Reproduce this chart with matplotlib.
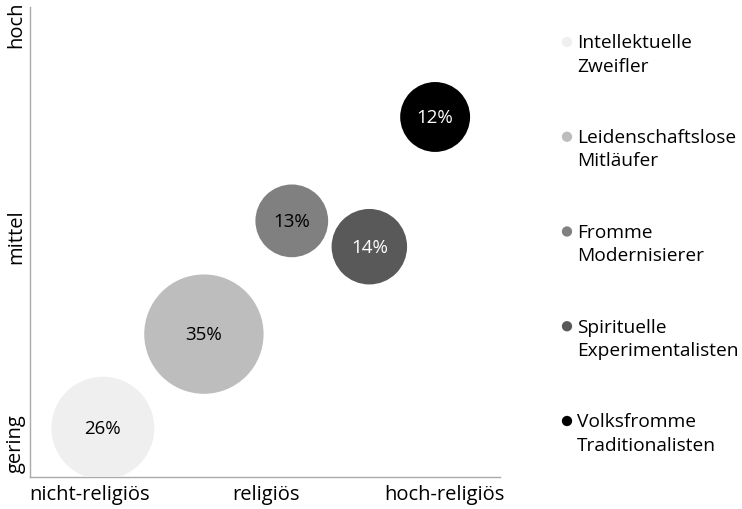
import matplotlib
matplotlib.use("Agg")
import matplotlib.pyplot as plt

plt.rcParams["font.family"] = ["Open Sans", "DejaVu Sans"]

# segment data
groups = ["Intellektuelle\nZweifler", "Leidenschaftslose\nMitläufer", "Fromme\nModernisierer",
          "Spirituelle\nExperimentalisten", "Volksfromme\nTraditionalisten"]
shares = [26, 35, 13, 14, 12]
religiosity = [15.5, 37.0, 55.7, 72.2, 86.2]
engagement = [10.4, 30.4, 54.5, 49.0, 76.6]
colors = ["#efefef", "#bdbdbd", "#808080", "#595959", "#000000"]
text_colors = ["black", "black", "black", "white", "white"]

x_ticks = [12.6, 50.2, 88.1]
x_labels = ["nicht-religiös", "religiös", "hoch-religiös"]
y_ticks = [7.4, 51.3, 96.4]
y_labels = ["gering", "mittel", "hoch"]

W, H = 742, 510
fig = plt.figure(figsize=(W / 100, H / 100), dpi=100)
ax = fig.add_axes([30 / W, 32 / H, 470 / W, 470 / H])

ax.scatter(religiosity, engagement, s=[v * 211 for v in shares], c=colors, linewidths=0, zorder=3)
for x, y, v, tc in zip(religiosity, engagement, shares, text_colors):
    ax.text(x, y, "{}%".format(v), ha="center", va="center", color=tc, fontsize=13.5, zorder=4)

ax.set_xlim(0, 100)
ax.set_ylim(0, 100)
ax.set_xticks(x_ticks)
ax.set_xticklabels(x_labels, fontsize=14.5)
ax.set_yticks(y_ticks)
ax.set_yticklabels(y_labels, fontsize=14.5, rotation=90, va="center")
ax.tick_params(length=0)
ax.tick_params(axis="x", pad=5)
ax.tick_params(axis="y", pad=3)
for side in ["top", "right"]:
    ax.spines[side].set_visible(False)
for side in ["left", "bottom"]:
    ax.spines[side].set_color("#aaaaaa")
    ax.spines[side].set_linewidth(1)

# legend drawn in its own axes so markers sit on the first text line
leg = fig.add_axes([540 / W, 0, 202 / W, 1])
leg.set_xlim(0, 202)
leg.set_ylim((H - 43) / 94.75, -43 / 94.75)
leg.axis("off")
idx = list(range(len(groups)))
leg.scatter([27] * len(idx), idx, s=55, c=colors, linewidths=0)
for i, g in zip(idx, groups):
    leg.text(37, i + 0.127, g, ha="left", va="center", fontsize=13.8, linespacing=1.38)

fig.savefig("out.png", dpi=100)
